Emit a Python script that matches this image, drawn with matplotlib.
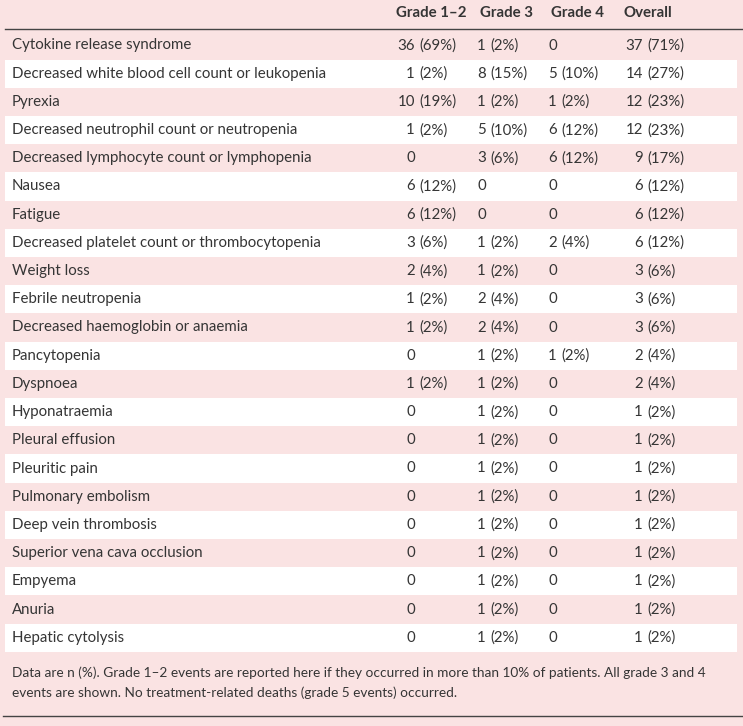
import matplotlib.pyplot as plt

plt.rcParams['font.family'] = ['Lato', 'DejaVu Sans']

# table content
columns = ["Grade 1\u20132", "Grade 3", "Grade 4", "Overall"]
events = [
    "Cytokine release syndrome",
    "Decreased white blood cell count or leukopenia",
    "Pyrexia",
    "Decreased neutrophil count or neutropenia",
    "Decreased lymphocyte count or lymphopenia",
    "Nausea",
    "Fatigue",
    "Decreased platelet count or thrombocytopenia",
    "Weight loss",
    "Febrile neutropenia",
    "Decreased haemoglobin or anaemia",
    "Pancytopenia",
    "Dyspnoea",
    "Hyponatraemia",
    "Pleural effusion",
    "Pleuritic pain",
    "Pulmonary embolism",
    "Deep vein thrombosis",
    "Superior vena cava occlusion",
    "Empyema",
    "Anuria",
    "Hepatic cytolysis",
]
grade12 = ["36 (69%)", "1 (2%)", "10 (19%)", "1 (2%)", "0", "6 (12%)", "6 (12%)",
           "3 (6%)", "2 (4%)", "1 (2%)", "1 (2%)", "0", "1 (2%)", "0", "0", "0",
           "0", "0", "0", "0", "0", "0"]
grade3 = ["1 (2%)", "8 (15%)", "1 (2%)", "5 (10%)", "3 (6%)", "0", "0",
          "1 (2%)", "1 (2%)", "2 (4%)", "2 (4%)", "1 (2%)", "1 (2%)", "1 (2%)",
          "1 (2%)", "1 (2%)", "1 (2%)", "1 (2%)", "1 (2%)", "1 (2%)", "1 (2%)", "1 (2%)"]
grade4 = ["0", "5 (10%)", "1 (2%)", "6 (12%)", "6 (12%)", "0", "0",
          "2 (4%)", "0", "0", "0", "1 (2%)", "0", "0", "0", "0",
          "0", "0", "0", "0", "0", "0"]
overall = ["37 (71%)", "14 (27%)", "12 (23%)", "12 (23%)", "9 (17%)", "6 (12%)", "6 (12%)",
           "6 (12%)", "3 (6%)", "3 (6%)", "3 (6%)", "2 (4%)", "2 (4%)", "1 (2%)",
           "1 (2%)", "1 (2%)", "1 (2%)", "1 (2%)", "1 (2%)", "1 (2%)", "1 (2%)", "1 (2%)"]
footnote = ["Data are n (%). Grade 1\u20132 events are reported here if they occurred in more than 10% of patients. All grade 3 and 4",
            "events are shown. No treatment-related deaths (grade 5 events) occurred."]

pink = '#fae3e3'
txt = '#353535'
W, H = 743, 726
fs = 10.8

fig = plt.figure(figsize=(W / 100, H / 100), dpi=100)
fig.patch.set_facecolor(pink)
ax = fig.add_axes([0, 0, 1, 1])
ax.set_xlim(0, W)
ax.set_ylim(H, 0)
ax.axis('off')

# header
head_x = [396, 480, 551, 623]
for x, c in zip(head_x, columns):
    ax.text(x, 13, c, fontsize=fs, fontweight='bold', color=txt, ha='left', va='center')
ax.plot([5, W], [28.5, 28.5], color='#444444', lw=1)

row0, dy = 45.5, 28.2
anchors = [415, 486, 557, 643]   # right edge of the count in each column
cols = [grade12, grade3, grade4, overall]
for i, ev in enumerate(events):
    y = row0 + i * dy
    if i % 2 == 1:
        ax.axhspan(y - dy / 2, y + dy / 2, xmin=5 / W, xmax=737 / W, color='white', lw=0)
    ax.text(12, y, ev, fontsize=fs, color=txt, ha='left', va='center')
    for a, col in zip(anchors, cols):
        parts = col[i].split(' ')
        ax.text(a, y, parts[0], fontsize=fs, color=txt, ha='right', va='center')
        if len(parts) > 1:
            ax.text(a + 4, y, parts[1], fontsize=fs, color=txt, ha='left', va='center')

ax.text(12, 673, footnote[0], fontsize=9.8, color=txt, ha='left', va='center')
ax.text(12, 693, footnote[1], fontsize=9.8, color=txt, ha='left', va='center')
ax.plot([3, W], [715.5, 715.5], color='#444444', lw=1)

fig.savefig('out.png', dpi=100, facecolor=pink)
